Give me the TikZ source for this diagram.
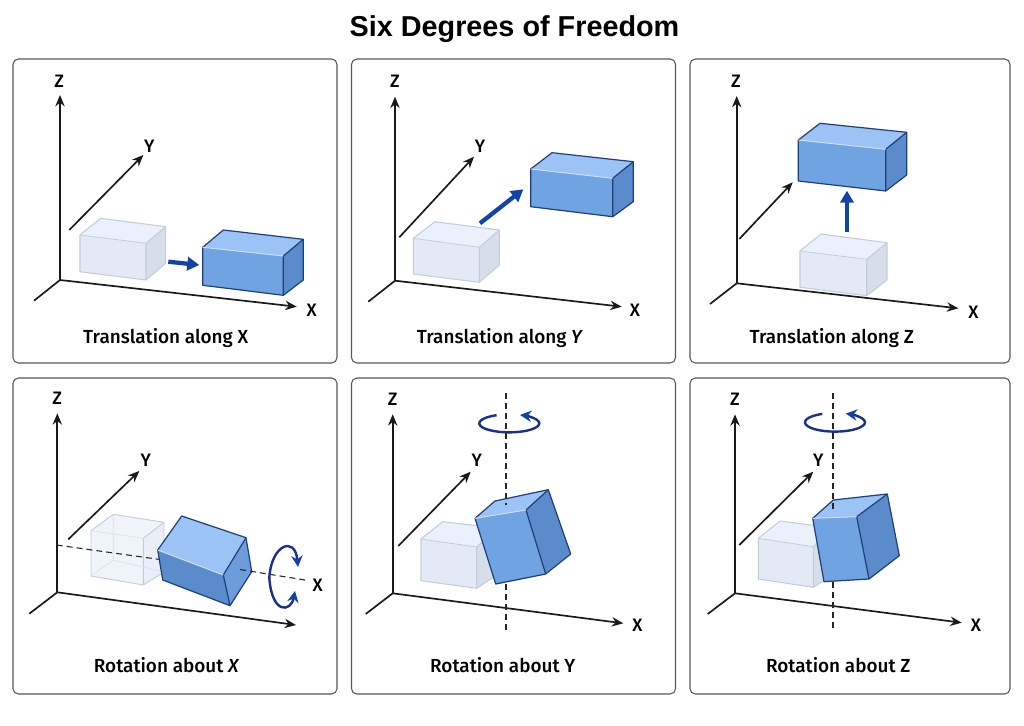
\documentclass[tikz,border=0pt]{standalone}
\usepackage{fontspec}
\setmainfont{Liberation Sans}
\newfontfamily\capfont[UprightFont=* Medium,ItalicFont=* Medium Italic]{Fira Sans}
\usetikzlibrary{arrows.meta}
\newcommand{\block}[8]{%
    \fill[#1 front] #2 -- #3 -- #4 -- #5 -- cycle;
    \fill[#1 top] #2 -- #6 -- #7 -- #3 -- cycle;
    \fill[#1 side] #3 -- #7 -- #8 -- #4 -- cycle;
    \draw[#1 edge] #2 -- #6 -- #7 -- #8 -- #4 -- #5 -- cycle;
    \draw[#1 edge] #3 -- #7 #3 -- #4;
    \draw[#1 seam] #2 -- #3;
}
\begin{document}
\begin{tikzpicture}[x=0.75pt,y=-0.75pt]
    \tikzset{
    panel/.style={draw=black!65,fill=white,rounded corners=4pt,line width=0.8pt,minimum width=243pt,minimum height=228pt,inner sep=0},
    panel low/.style={panel,minimum height=237pt},
    captxt/.style={font=\capfont\fontsize{14.2}{17}\selectfont,inner sep=0},
    axlabel/.style={font=\capfont\fontsize{13.5}{16}\selectfont,inner sep=0},
    axis/.style={line width=1.25pt,black!90},
    axisarrow/.style={axis,-{Stealth[length=8.5pt,width=7pt]}},
    move/.style={line width=3.2pt,color=moveblue,-{Triangle[length=9pt,width=10pt]}},
    ring/.style={line width=1.8pt,color=ringblue,-{Stealth[length=8.5pt,width=8.5pt,color=moveblue]}},
    spin/.style={dashed,dash pattern=on 4.5pt off 3pt,line width=0.8pt,black!85},
    ghost front/.style={fill=ghostf},
    ghost top/.style={fill=ghostt},
    ghost side/.style={fill=ghosts},
    ghost edge/.style={draw=ghoste,line width=0.8pt,line join=round},
    ghost seam/.style={draw=ghoste,line width=0.6pt},
    glass front/.style={fill=ghostt!80!white},
    glass top/.style={fill=ghostt!80!white},
    glass side/.style={fill=ghostf!80!white},
    glass edge/.style={draw=ghoste,line width=0.7pt,line join=round},
    glass seam/.style={draw=ghoste!60!white,line width=0.5pt},
    solid front/.style={fill=solidf},
    solid top/.style={fill=solidt},
    solid side/.style={fill=solids},
    solid edge/.style={draw=solide,line width=0.9pt,line join=round},
    solid seam/.style={draw=solidl,line width=0.7pt},
    roll front/.style={fill=solids},
    roll top/.style={fill=solidt},
    roll side/.style={fill=rollr},
    roll edge/.style={draw=solide,line width=0.9pt,line join=round},
    roll seam/.style={draw=solidl,line width=0.7pt},
    }
    \definecolor{moveblue}{HTML}{1244A8}
    \definecolor{ringblue}{HTML}{1B2F8C}
    \definecolor{ghostf}{HTML}{E3EAF5}
    \definecolor{ghostt}{HTML}{EBF1FA}
    \definecolor{ghosts}{HTML}{D6DEEA}
    \definecolor{ghoste}{HTML}{C4CCDA}
    \definecolor{solidf}{HTML}{6FA3E2}
    \definecolor{solidt}{HTML}{9BC3F5}
    \definecolor{solids}{HTML}{5A8CCB}
    \definecolor{solide}{HTML}{1F3F78}
    \definecolor{solidl}{HTML}{CFE2FB}
    \definecolor{rollr}{HTML}{6C9DDA}

    \useasboundingbox (0,0) rectangle (1024,725);
    \fill[white] (0,0) rectangle (1024,725);

    \node[font=\fontsize{21.6}{25}\selectfont\bfseries,inner sep=0] (title) at (514.5,29) {Six Degrees of Freedom};

    \node[panel] (p1) at (175,211) {};
    \node[panel] (p2) at (513.5,211) {};
    \node[panel,minimum width=240pt] (p3) at (850,211) {};
    \node[panel low] (p4) at (175,536) {};
    \node[panel low] (p5) at (513.5,536) {};
    \node[panel low,minimum width=240pt] (p6) at (850,536) {};

    % axes
    \coordinate (o1) at (60,280);     \coordinate (z1) at (60,95);
    \coordinate (a1) at (69.3,230);   \coordinate (y1) at (143.3,155);
    \coordinate (x1) at (296.7,306.7);\coordinate (b1) at (34,300.7);
    \coordinate (o2) at (395,280.7);  \coordinate (z2) at (395,96.7);
    \coordinate (a2) at (399.3,237.3);\coordinate (y2) at (474,156.7);
    \coordinate (x2) at (621.7,306.7);\coordinate (b2) at (368.3,301.7);
    \coordinate (o3) at (736.7,283.3);\coordinate (z3) at (736.7,96);
    \coordinate (a3) at (739.3,239);  \coordinate (y3) at (792.7,182.3);
    \coordinate (x3) at (958.3,308.3);\coordinate (b3) at (710,304);
    \coordinate (o4) at (57.3,592.3); \coordinate (z4) at (57.3,413.3);
    \coordinate (a4) at (68.3,539.3); \coordinate (y4) at (139.3,471);
    \coordinate (x4) at (296,625);    \coordinate (b4) at (29.3,613.7);
    \coordinate (o5) at (392.7,593.3);\coordinate (z5) at (392.7,414.3);
    \coordinate (a5) at (398.3,546);  \coordinate (y5) at (470.7,471.7);
    \coordinate (x5) at (623.3,623.3);\coordinate (b5) at (365.7,614);
    \coordinate (o6) at (735,593.3);  \coordinate (z6) at (735,414.3);
    \coordinate (a6) at (739.3,545);  \coordinate (y6) at (813.3,471.7);
    \coordinate (x6) at (961.7,622.7);\coordinate (b6) at (707.7,614);
    \foreach \p in {1,...,6} {
        \draw[axisarrow] (o\p) -- (z\p);
        \draw[axisarrow] (o\p) -- (x\p);
        \draw[axisarrow] (a\p) -- (y\p);
        \draw[axis] (o\p) -- (b\p);
    }

    \node[axlabel] (lz1) at (59.3,81.2) {Z};
    \node[axlabel] (ly1) at (149.3,146.2) {Y};
    \node[axlabel] (lx1) at (311.7,309.8) {X};
    \node[axlabel] (lz2) at (395,81.2) {Z};
    \node[axlabel] (ly2) at (480,146.5) {Y};
    \node[axlabel] (lx2) at (635,309.8) {X};
    \node[axlabel] (lz3) at (736,81.2) {Z};
    \node[axlabel] (lx3) at (973.3,312.2) {X};
    \node[axlabel] (lz4) at (57.3,398.2) {Z};
    \node[axlabel] (ly4) at (145.7,460.5) {Y};
    \node[axlabel] (lx4) at (317.7,585.5) {X};
    \node[axlabel] (lz5) at (392.7,398.8) {Z};
    \node[axlabel] (ly5) at (476.7,460.5) {Y};
    \node[axlabel] (lx5) at (637.3,625.5) {X};
    \node[axlabel] (lz6) at (735,398.8) {Z};
    \node[axlabel] (ly6) at (818.3,460.5) {Y};
    \node[axlabel] (lx6) at (976,625.5) {X};

    % translations
    \block{ghost}{(80,235)}{(146,243.3)}{(146,280)}{(80,271.7)}{(100.7,218.3)}{(165.7,226.7)}{(165.7,263.3)}
    \block{solid}{(202.7,247.3)}{(283.3,256)}{(283.3,295.3)}{(202.7,285.3)}{(223.3,230)}{(303.3,239.3)}{(303.3,280)}
    \coordinate (m1a) at (168.3,261.7); \coordinate (m1b) at (199.3,265);
    \draw[move] (m1a) -- (m1b);

    \block{ghost}{(413.3,238.3)}{(479.3,247.3)}{(479.3,282.3)}{(413.3,274)}{(435,221.7)}{(499.3,230)}{(499.3,265)}
    \block{solid}{(530.7,169)}{(612.7,178.3)}{(612.7,216.7)}{(530.7,206.7)}{(552,152.7)}{(633.3,161.7)}{(633.3,201.7)}
    \coordinate (m2a) at (480,223.3); \coordinate (m2b) at (523.3,189.3);
    \draw[move] (m2a) -- (m2b);

    \block{ghost}{(800,251)}{(866.7,259.3)}{(866.7,295.7)}{(800,287.3)}{(821,234)}{(887,242.7)}{(887,280)}
    \block{solid}{(798.3,140)}{(885.7,149.3)}{(885.7,191)}{(798.3,181)}{(820,123.3)}{(906.7,132.3)}{(906.7,175)}
    \coordinate (m3a) at (847,232.3); \coordinate (m3b) at (847,190.7);
    \draw[move] (m3a) -- (m3b);

    % rotation about x
    \block{glass}{(91,530.7)}{(143.3,538.3)}{(143.3,585)}{(91,576)}{(113.3,514.3)}{(164,522.3)}{(164,572)}
    \draw[glass seam] (113.3,514.3) -- (113.3,560) -- (91,576) (113.3,560) -- (164,572);
    \coordinate (s4a) at (56.7,545); \coordinate (s4b) at (160,559.5);
    \coordinate (s4c) at (240,569.5); \coordinate (s4d) at (305,580);
    \draw[spin] (s4a) -- (s4b);
    \block{roll}{(157.7,550)}{(223.3,575)}{(230,605.7)}{(162.7,580)}{(181.7,516)}{(246,537.7)}{(251.7,571.7)}
    \draw[spin] (s4c) -- (s4d);
    \coordinate (r4) at (269.3,578); \coordinate (r4a) at (298,567); \coordinate (r4b) at (295,591);
    \draw[ring] (r4) .. controls (271,545) and (295,535) .. (r4a);
    \draw[ring] (r4) .. controls (272,615) and (291,612) .. (r4b);

    % rotation about y
    \coordinate (s5a) at (506,393.3); \coordinate (s5b) at (506,505);
    \coordinate (s5c) at (506,584); \coordinate (s5d) at (506,631.7);
    \block{ghost}{(421,539)}{(476.7,547)}{(476.7,588.3)}{(421,580.7)}{(442.7,521.7)}{(496.7,528)}{(496.7,575)}
    \block{solid}{(475,518.3)}{(526,510)}{(545.7,574)}{(495.7,584)}{(495,501)}{(548.3,489.7)}{(570.7,554)}
    \draw[spin] (s5a) -- (s5b);
    \draw[spin] (s5c) -- (s5d);
    \coordinate (r5) at (496.6,415.2);
    \draw[ring] (r5) arc[start angle=-115,end angle=-429,x radius=30,y radius=9];

    % rotation about z
    \coordinate (s6a) at (833,393.3); \coordinate (s6b) at (833,509);
    \coordinate (s6c) at (833,581.7); \coordinate (s6d) at (833,631.7);
    \block{ghost}{(758.3,538.3)}{(813.3,546.7)}{(813.3,587.3)}{(758.3,579)}{(780,521)}{(833,528)}{(833,575)}
    \block{solid}{(812.7,518.3)}{(856.7,516.7)}{(869,579)}{(824,581.7)}{(833.3,500)}{(887.3,494)}{(899.3,555.7)}
    \draw[spin] (s6a) -- (s6b);
    \draw[spin] (s6c) -- (s6d);
    \coordinate (r6) at (822.3,413.9);
    \draw[ring] (r6) arc[start angle=-115,end angle=-429,x radius=30,y radius=9.3];

    \node[captxt] (c1) at (165.7,338) {Translation along X};
    \node[captxt] (c2) at (500,338) {Translation along \textit{Y}};
    \node[captxt] (c3) at (831.7,338) {Translation along Z};
    \node[captxt] (c4) at (166.7,665) {Rotation about \textit{X}};
    \node[captxt] (c5) at (502.7,665) {Rotation about Y};
    \node[captxt] (c6) at (838.3,665) {Rotation about Z};
\end{tikzpicture}
\end{document}
